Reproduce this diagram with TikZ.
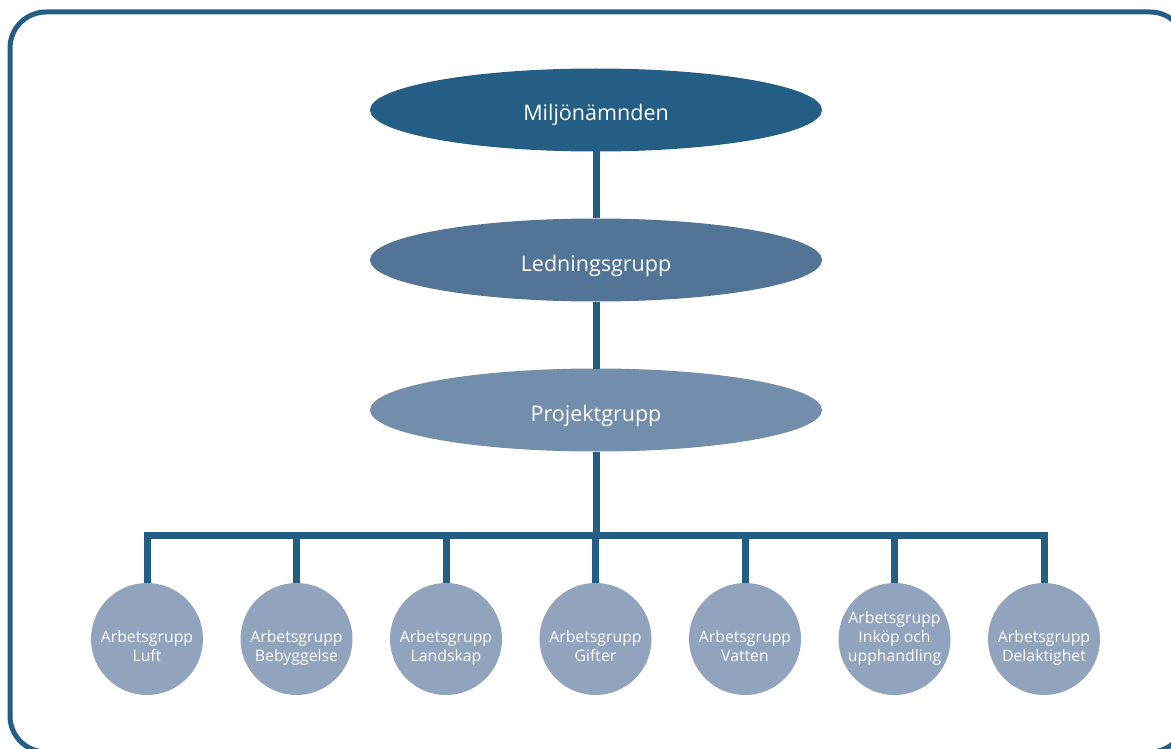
\documentclass[tikz,border=0pt]{standalone}
\usepackage{fontspec}
\setmainfont{Open Sans}
\usetikzlibrary{positioning,shapes.geometric}
\definecolor{mnblue}{HTML}{255E85}
\definecolor{lgblue}{HTML}{527597}
\definecolor{pgblue}{HTML}{738DAD}
\definecolor{agblue}{HTML}{91A3BD}
\newcommand{\ovaltext}[1]{\raisebox{-11pt}[0pt][0pt]{#1}}
\newcommand{\grptext}[1]{\raisebox{-22pt}[0pt][0pt]{\begin{tabular}[b]{@{}c@{}}#1\end{tabular}}}
\begin{document}
\begin{tikzpicture}[x=1pt, y=-1pt,
	oval/.style = {ellipse, minimum width=452pt, minimum height=83pt, inner sep=0pt, outer sep=0pt, text=white, font=\fontsize{21.5}{24}\selectfont},
	group/.style = {circle, fill=agblue, minimum size=112pt, inner sep=0pt, outer sep=0pt, text=white, font=\fontsize{15.8}{19}\selectfont},
	link/.style = {draw=mnblue, line width=7pt}]
		\useasboundingbox (0,0) rectangle (1171,749);
		\clip (0,0) rectangle (1171,749);
		\draw[mnblue, line width=5pt, rounded corners=36pt] (10,12) rectangle (1186,752);
		\node[oval, fill=mnblue] (mn) at (596,110) {\ovaltext{Miljönämnden}};
		\node[oval, fill=lgblue] (lg) at (596,260) {\ovaltext{Ledningsgrupp}};
		\node[oval, fill=pgblue] (pg) at (596,410) {\ovaltext{Projektgrupp}};
		\coordinate (bar) at (596,535);
		\node[group] (a1) at (147,639) {\grptext{Arbetsgrupp\\Luft}};
		\node[group] (a2) [right=37.5pt of a1] {\grptext{Arbetsgrupp\\Bebyggelse}};
		\node[group] (a3) [right=37.5pt of a2] {\grptext{Arbetsgrupp\\Landskap}};
		\node[group] (a4) [right=37.5pt of a3] {\grptext{Arbetsgrupp\\Gifter}};
		\node[group] (a5) [right=37.5pt of a4] {\grptext{Arbetsgrupp\\Vatten}};
		\node[group] (a6) [right=37.5pt of a5] {\grptext{Arbetsgrupp\\Inköp och\\upphandling}};
		\node[group] (a7) [right=37.5pt of a6] {\grptext{Arbetsgrupp\\Delaktighet}};
		\draw[link] (mn) -- (lg);
		\draw[link] (lg) -- (pg);
		\draw[link] (pg) -- (bar);
		\draw[link, line join=miter] (a1) |- (bar) -| (a7);
		\draw[link] (a2) -- (a2 |- bar);
		\draw[link] (a3) -- (a3 |- bar);
		\draw[link] (a4) -- (a4 |- bar);
		\draw[link] (a5) -- (a5 |- bar);
		\draw[link] (a6) -- (a6 |- bar);
\end{tikzpicture}
\end{document}
